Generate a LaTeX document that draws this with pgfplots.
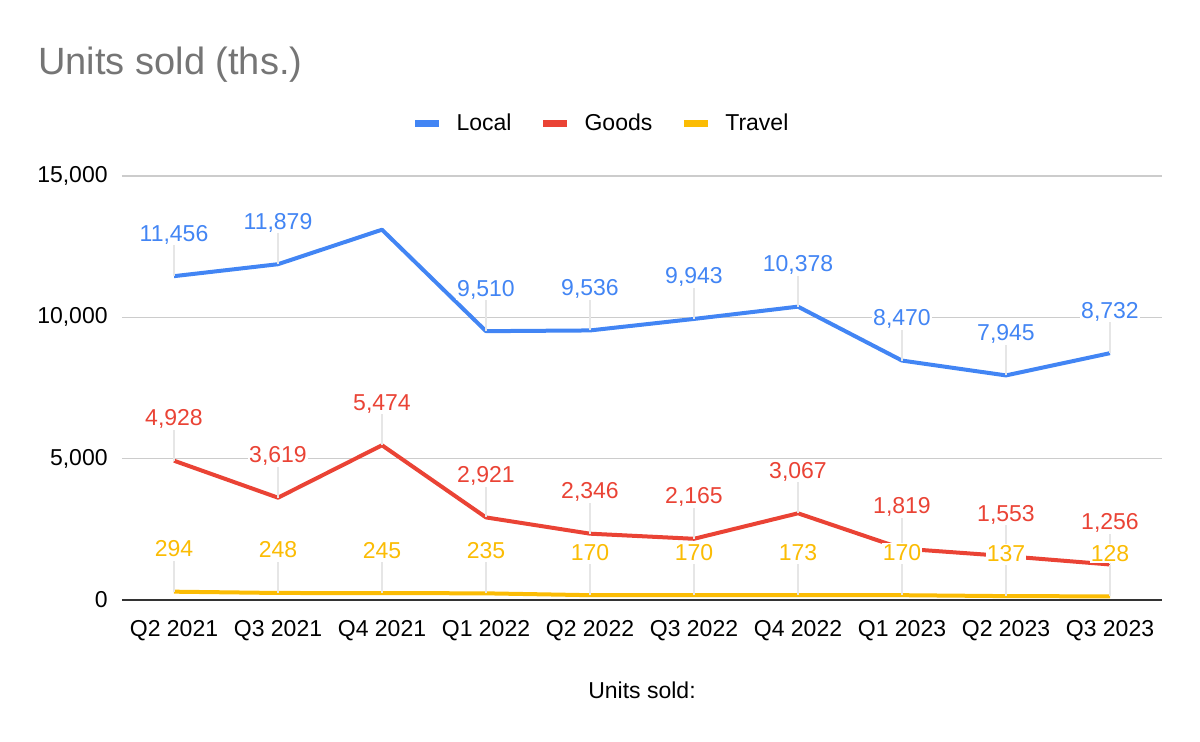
\documentclass[border=0pt]{standalone}
\usepackage{fontspec}
\setmainfont{Liberation Sans}
\usepackage{pgfplots}
\usepackage{pgfplotstable}
\pgfplotsset{compat=1.18}

\definecolor{cLocal}{HTML}{4285F4}
\definecolor{cGoods}{HTML}{EA4335}
\definecolor{cTravel}{HTML}{FBBC04}
\definecolor{cGrid}{HTML}{CCCCCC}
\definecolor{cTitle}{HTML}{757575}
\definecolor{cLead}{HTML}{E6E6E6}

% x = quarter index, e = leader length (data units), lab = label text
\pgfplotstableread{
x y e lab
0 11456 1100 11,456
1 11879 1100 11,879
2 13100 0 {}
3 9510 1100 9,510
4 9536 1100 9,536
5 9943 1100 9,943
6 10378 1100 10,378
7 8470 1100 8,470
8 7945 1100 7,945
9 8732 1100 8,732
}\localdata

\pgfplotstableread{
x y e lab
0 4928 1100 4,928
1 3619 1100 3,619
2 5474 1100 5,474
3 2921 1100 2,921
4 2346 1100 2,346
5 2165 1100 2,165
6 3067 1100 3,067
7 1819 1100 1,819
8 1553 1100 1,553
9 1256 1100 1,256
}\goodsdata

\pgfplotstableread{
x y e lab
0 294 1100 294
1 248 1100 248
2 245 1100 245
3 235 1100 235
4 170 1100 170
5 170 1100 170
6 173 1100 173
7 170 1100 170
8 137 1100 137
9 128 1100 128
}\traveldata

\begin{document}
\begin{tikzpicture}
\path[use as bounding box] (-61pt,-71pt) rectangle (539pt,300pt);
\begin{axis}[
    scale only axis,
    width=520pt, height=212pt,
    xmin=-0.5, xmax=9.5,
    ymin=0, ymax=15000,
    clip=false,
    xtick={0,...,9},
    xticklabels={Q2 2021,Q3 2021,Q4 2021,Q1 2022,Q2 2022,Q3 2022,Q4 2022,Q1 2023,Q2 2023,Q3 2023},
    ytick={5000,10000,15000},
    extra y ticks={0},
    extra y tick style={grid=major, major grid style={draw=black!80, line width=1pt}},
    scaled y ticks=false,
    yticklabel style={/pgf/number format/fixed},
    ymajorgrids=true,
    major grid style={draw=cGrid, line width=0.75pt},
    axis line style={draw=none},
    major tick length=0pt,
    tick label style={font=\fontsize{11.5}{13}\selectfont, text=black},
    yticklabel style={anchor=east, inner sep=0pt, xshift=-7pt},
    xticklabel style={anchor=north, inner sep=0pt, yshift=-10pt},
    /pgf/number format/assume math mode=true,
    /pgf/number format/1000 sep={,},
    xlabel={Units sold:},
    xlabel style={at={(axis description cs:0.5,0)}, anchor=center, yshift=-45pt,
        font=\fontsize{11.5}{13}\selectfont},
    legend columns=3,
    legend style={at={(0.4596,1.1226)}, anchor=center, draw=none, fill=none,
        font=\fontsize{11.5}{13}\selectfont, inner sep=0pt,
        nodes={inner sep=0pt},
        /tikz/every odd column/.append style={column sep=7pt},
        /tikz/every even column/.append style={column sep=14pt}},
    legend image code/.code={\draw[line width=3.5pt] (0pt,0.5pt) -- (12pt,0.5pt);},
    nodes near coords align={center},
    nodes near coords style={anchor=base, yshift=17.5pt, fill=white, inner sep=0.6pt,
        font=\fontsize{11.5}{13}\selectfont},
]

\addplot[cLocal, line width=2pt, line join=round, mark=none,
    nodes near coords, point meta=explicit symbolic,
    error bars/.cd, y dir=plus, y explicit, error mark=none,
    error bar style={draw=cLead, line width=0.75pt}]
    table[x=x, y=y, y error=e, meta=lab] \localdata;
\addlegendentry{Local}

\addplot[cGoods, line width=2pt, line join=round, mark=none,
    nodes near coords, point meta=explicit symbolic,
    error bars/.cd, y dir=plus, y explicit, error mark=none,
    error bar style={draw=cLead, line width=0.75pt}]
    table[x=x, y=y, y error=e, meta=lab] \goodsdata;
\addlegendentry{Goods}

\addplot[cTravel, line width=2pt, line join=round, mark=none,
    nodes near coords, point meta=explicit symbolic,
    error bars/.cd, y dir=plus, y explicit, error mark=none,
    error bar style={draw=cLead, line width=0.75pt}]
    table[x=x, y=y, y error=e, meta=lab] \traveldata;
\addlegendentry{Travel}

\end{axis}
\node[anchor=base west, inner sep=0pt, text=cTitle,
    font=\fontsize{19}{22}\selectfont] at (-42pt,262.5pt) {Units sold (ths.)};
\end{tikzpicture}
\end{document}
